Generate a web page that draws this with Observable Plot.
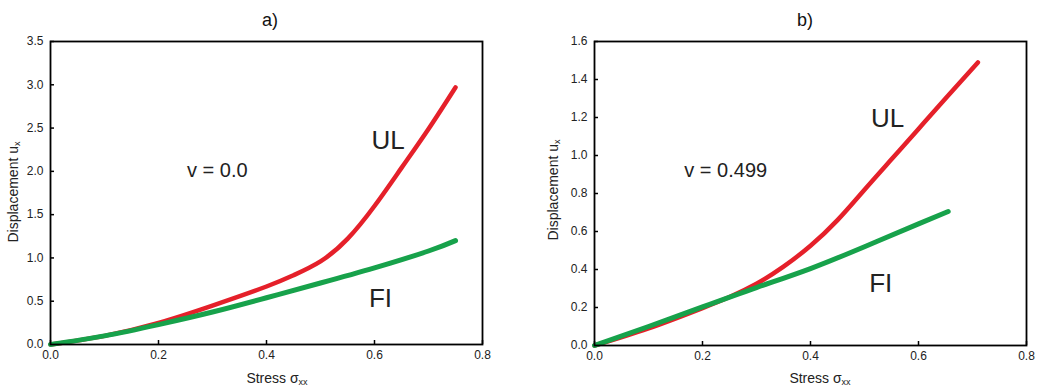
<!DOCTYPE html>
<html><head><meta charset="utf-8">
<script src="https://cdn.jsdelivr.net/npm/d3@7"></script>
<script src="https://cdn.jsdelivr.net/npm/@observablehq/plot@0.6"></script>
<style>
body{margin:0;background:#fff;}
#wrap{display:flex;width:1038px;height:391px;overflow:hidden;}
svg{font-family:"Liberation Sans",Arial,sans-serif;}
</style></head><body><div id="wrap"></div>
<script>
// ---- Data ----
const xTicks = [0, 0.2, 0.4, 0.6, 0.8];
const yTicksA = [0, 0.5, 1.0, 1.5, 2.0, 2.5, 3.0, 3.5];
const yTicksB = [0, 0.2, 0.4, 0.6, 0.8, 1.0, 1.2, 1.4, 1.6];

// Panel a) v = 0.0
const stressA_UL = [0, 0.1, 0.2, 0.3, 0.4, 0.45, 0.5, 0.55, 0.6, 0.65, 0.7, 0.75];
const dispA_UL   = [0, 0.10, 0.25, 0.45, 0.67, 0.80, 0.96, 1.22, 1.60, 2.04, 2.49, 2.97];
const stressA_FI = [0, 0.1, 0.2, 0.3, 0.4, 0.5, 0.6, 0.7, 0.75];
const dispA_FI   = [0, 0.10, 0.23, 0.375, 0.54, 0.71, 0.885, 1.08, 1.20];

// Panel b) v = 0.499
const stressB_UL = [0, 0.1, 0.2, 0.25, 0.3, 0.35, 0.4, 0.45, 0.5, 0.55, 0.6, 0.65, 0.71];
const dispB_UL   = [0, 0.09, 0.197, 0.255, 0.325, 0.415, 0.525, 0.66, 0.82, 0.98, 1.14, 1.30, 1.49];
const stressB_FI = [0, 0.1, 0.2, 0.3, 0.4, 0.5, 0.6, 0.655];
const dispB_FI   = [0, 0.10, 0.203, 0.305, 0.405, 0.52, 0.64, 0.705];

// Annotations: [text, x, y, fontSize]
const notesA = [["v = 0.0", 0.309, 2.01, 20], ["UL", 0.625, 2.36, 26], ["FI", 0.611, 0.53, 26]];
const notesB = [["v = 0.499", 0.243, 0.92, 20], ["UL", 0.543, 1.196, 26], ["FI", 0.53, 0.325, 26]];

const titles = ["a)", "b)"];
const RED = "#e5202a", GREEN = "#17a24b";

function zip(xs, ys) { return xs.map((x, i) => ({x, y: ys[i]})); }

function panel(cfg) {
  const W = 519, H = 391, mt = 41;
  const innerW = W - cfg.ml - cfg.mr, innerH = H - mt - cfg.mb;
  const svg = Plot.plot({
    width: W, height: H,
    marginLeft: cfg.ml, marginRight: cfg.mr, marginTop: mt, marginBottom: cfg.mb,
    style: {fontFamily: '"Liberation Sans", Arial, sans-serif', fontSize: "12px", background: "white", color: "#222", overflow: "visible"},
    x: {domain: [0, 0.8]},
    y: {domain: [0, cfg.ymax]},
    marks: [
      Plot.axisX({ticks: xTicks, tickSize: 0, tickPadding: 6, tickFormat: d3.format(".1f"), label: null, fontSize: 12}),
      Plot.axisY({ticks: cfg.yTicks, tickSize: 0, tickPadding: 7, tickFormat: d3.format(".1f"), label: null, fontSize: 12}),
      Plot.tickX(xTicks, {x: d => d, insetTop: innerH - 4, stroke: "#000", strokeWidth: 1.5}),
      Plot.tickY(cfg.yTicks, {y: d => d, insetRight: innerW - 4, stroke: "#000", strokeWidth: 1.5}),
      Plot.line(cfg.ul, {x: "x", y: "y", stroke: RED, strokeWidth: 4.5, curve: "natural"}),
      Plot.line(cfg.fi, {x: "x", y: "y", stroke: GREEN, strokeWidth: 5, curve: "natural"}),
      Plot.text(cfg.notes, {x: d => d[1], y: d => d[2], text: d => d[0], fontSize: d => d[3], fill: "#222", textAnchor: "middle", lineAnchor: "middle"}),
      Plot.frame({stroke: "#000", strokeWidth: 1.8})
    ]
  });
  const s = d3.select(svg);
  const fam = '"Liberation Sans", Arial, sans-serif';
  s.append("text").attr("x", cfg.tx).attr("y", 26).attr("text-anchor", "middle")
    .attr("font-size", 18).attr("font-family", fam).attr("fill", "#111").text(cfg.title);
  const xl = s.append("text").attr("x", cfg.xlx).attr("y", 383).attr("text-anchor", "middle")
    .attr("font-size", 14).attr("font-family", fam).attr("fill", "#222");
  xl.append("tspan").text("Stress σ");
  xl.append("tspan").attr("font-size", 9).attr("dy", 2).text("xx");
  const yl = s.append("text").attr("transform", `translate(${cfg.ylx},${cfg.yly}) rotate(-90)`)
    .attr("text-anchor", "middle").attr("font-size", 14).attr("font-family", fam).attr("fill", "#222");
  yl.append("tspan").text("Displacement u");
  yl.append("tspan").attr("font-size", 9).attr("dy", 2).text("x");
  return svg;
}

const wrap = document.getElementById("wrap");
wrap.appendChild(panel({ml: 50, mr: 37, mb: 47, ymax: 3.5, yTicks: yTicksA,
  ul: zip(stressA_UL, dispA_UL), fi: zip(stressA_FI, dispA_FI), notes: notesA,
  title: titles[0], tx: 270, xlx: 277, ylx: 18, yly: 192}));
wrap.appendChild(panel({ml: 75, mr: 12, mb: 46, ymax: 1.6, yTicks: yTicksB,
  ul: zip(stressB_UL, dispB_UL), fi: zip(stressB_FI, dispB_FI), notes: notesB,
  title: titles[1], tx: 286, xlx: 301, ylx: 39, yly: 190}));
</script></body></html>
